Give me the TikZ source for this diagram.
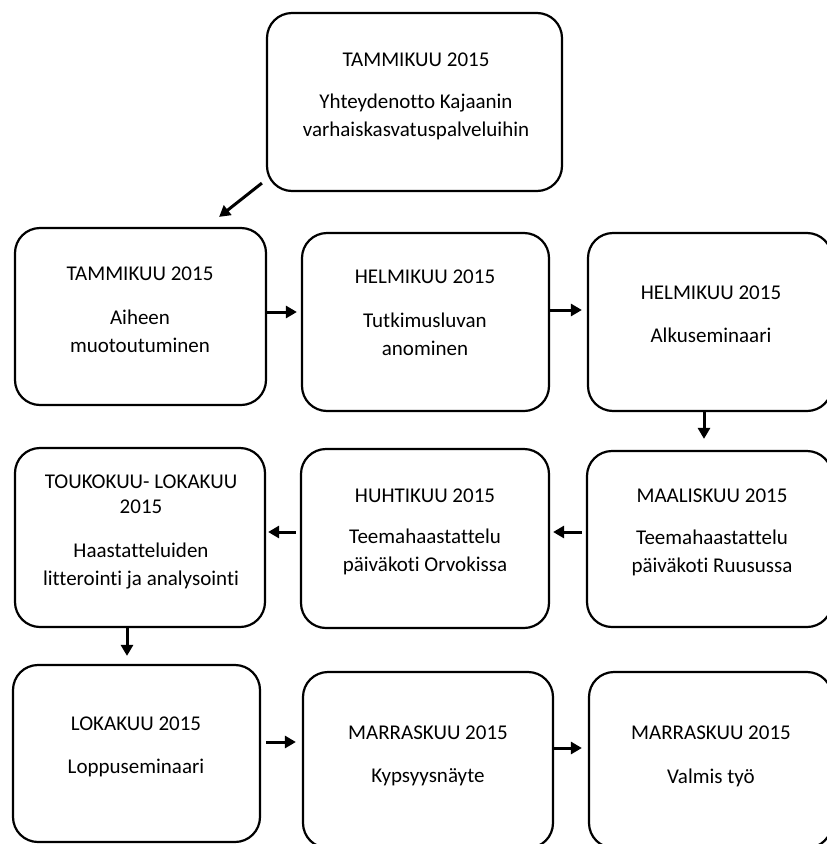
\documentclass[tikz,border=0pt]{standalone}
\usepackage{fontspec}
\setmainfont[Ligatures=NoCommon]{Carlito}
\usetikzlibrary{arrows.meta,calc}
\begin{document}
\begin{tikzpicture}[x=1pt,y=-1pt,
  box/.style={draw, line width=2.2pt, rounded corners=25pt, inner sep=0pt},
  txt/.style={anchor=north, align=center, inner sep=0pt, font=\fontsize{21}{28}\selectfont},
  arr/.style={line width=3pt, -{Triangle[length=11pt,width=12pt]}}]
\useasboundingbox (0,0) rectangle (827,844);
% boxes
\node[box, minimum width=295pt, minimum height=178pt] (T) at (414.5,102) {};
\node[box, minimum width=251pt, minimum height=177pt] (B1) at (140.5,316.5) {};
\node[box, minimum width=247pt, minimum height=178pt] (B2) at (425.5,322) {};
\node[box, minimum width=244pt, minimum height=178pt] (B3) at (710,322) {};
\node[box, minimum width=250pt, minimum height=179pt] (B4) at (140,537.5) {};
\node[box, minimum width=248pt, minimum height=179pt] (B5) at (425,538.5) {};
\node[box, minimum width=245pt, minimum height=176pt] (B6) at (709.5,539) {};
\node[box, minimum width=247pt, minimum height=177pt] (B7) at (136.5,753.5) {};
\node[box, minimum width=250pt, minimum height=176pt] (B8) at (428,760) {};
\node[box, minimum width=243pt, minimum height=176pt] (B9) at (710.5,760) {};
% texts
\node[txt] (tT) at (416,53) {TAMMIKUU 2015\\[14pt]Yhteydenotto Kajaanin\\varhaiskasvatuspalveluihin};
\node[txt] (t1) at (140,267) {TAMMIKUU 2015\\[16pt]Aiheen\\muotoutuminen};
\node[txt] (t2) at (425,270) {HELMIKUU 2015\\[16pt]Tutkimusluvan\\anominen};
\node[txt] (t3) at (711,286) {HELMIKUU 2015\\[15pt]Alkuseminaari};
\node[txt] (t4) at (141,475) {TOUKOKUU- LOKAKUU\\[-3pt]2015\\[16pt]Haastatteluiden\\litterointi ja analysointi};
\node[txt] (t5) at (425,489) {HUHTIKUU 2015\\[13pt]Teemahaastattelu\\päiväkoti Orvokissa};
\node[txt] (t6) at (712,489) {MAALISKUU 2015\\[14pt]Teemahaastattelu\\päiväkoti Ruusussa};
\node[txt] (t7) at (136,717) {LOKAKUU 2015\\[15pt]Loppuseminaari};
\node[txt] (t8) at (428,726) {MARRASKUU 2015\\[15pt]Kypsyysnäyte};
\node[txt] (t9) at (711,726) {MARRASKUU 2015\\[16pt]Valmis työ};
% arrows
\draw[arr] ($(T.south west)+(-4,-9)$) -- ($(B1.north east)+(-48,-10)$);
\draw[arr, shorten >=4pt] ([yshift=4.5pt]B1.east) coordinate (a1) -- (a1 -| B2.west);
\draw[arr, shorten >=5pt] ([yshift=12pt]B2.east) coordinate (a2) -- (a2 -| B3.west);
\draw[arr, shorten >=11pt] ([xshift=-6pt]B3.south) coordinate (a3) -- (a3 |- B6.north);
\draw[arr, shorten <=4pt, shorten >=3pt] ([yshift=7pt]B6.west) coordinate (a4) -- (a4 -| B5.east);
\draw[arr, shorten <=4pt, shorten >=2pt] ([yshift=6.5pt]B5.west) coordinate (a5) -- (a5 -| B4.east);
\draw[arr, shorten >=8pt] ([xshift=-13pt]B4.south) coordinate (a6) -- (a6 |- B7.north);
\draw[arr, shorten <=5pt, shorten >=6pt] ([yshift=11.5pt]B7.east) coordinate (a7) -- (a7 -| B8.west);
\draw[arr, shorten >=6pt] ([yshift=12pt]B8.east) coordinate (a8) -- (a8 -| B9.west);
\end{tikzpicture}
\end{document}
